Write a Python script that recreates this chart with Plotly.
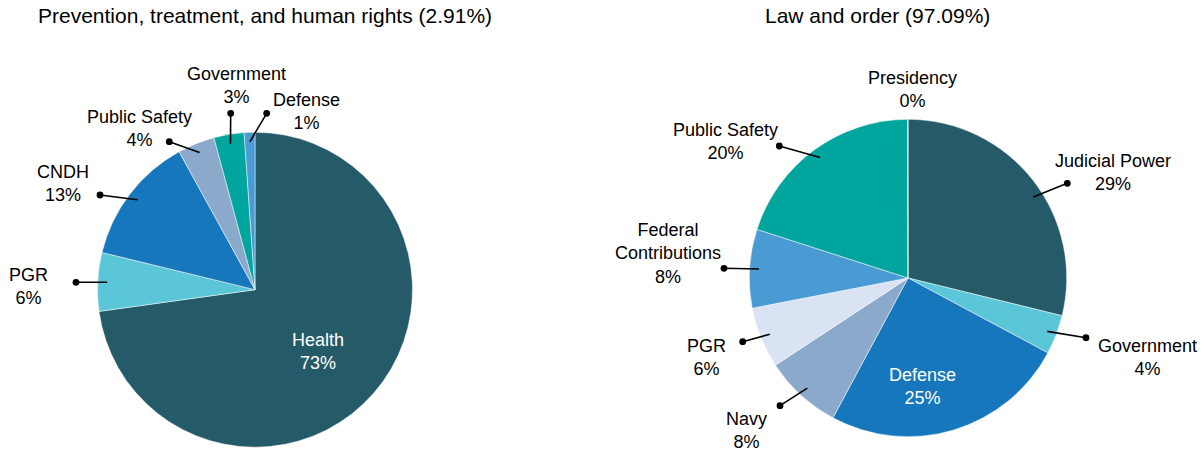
import math
import plotly.graph_objects as go

# ---------------- data ----------------
left_title = "Prevention, treatment, and human rights (2.91%)"
left_labels = ["Health", "PGR", "CNDH", "Public Safety", "Government", "Defense"]
left_values = [72.8, 6.0, 13.2, 3.8, 3.1, 1.1]

right_title = "Law and order (97.09%)"
right_labels = ["Judicial Power", "Government", "Defense", "Navy", "PGR",
                "Federal Contributions", "Public Safety", "Presidency"]
right_values = [28.8, 4.0, 25.0, 7.9, 6.2, 8.0, 20.0, 0.03]

# ---------------- styles / layout ----------------
W, H = 1204, 450
DARK = "#255a69"
CYAN = "#5bc6d7"
BLUE = "#1777bc"
GREYBLUE = "#8ba9ca"
TEAL = "#00a69d"
MIDBLUE = "#4a9ad4"
PALE = "#d9e3f4"

left_colors = [DARK, CYAN, BLUE, GREYBLUE, TEAL, MIDBLUE]
right_colors = [DARK, CYAN, BLUE, GREYBLUE, PALE, MIDBLUE, TEAL, "#e0e0e0"]

# pie geometry in pixels: (center x, center y, radius)
LEFT_GEOM = (255.0, 289.7, 157.5)
RIGHT_GEOM = (908.0, 278.0, 158.7)

# label placement (pixels): text centre, leader-dot position (None = inside / no line),
# text colour, leader start angle tweak (degrees)
left_label_pos = {
    "Health": ((318.3, 351.7), None, "white", 0),
    "PGR": ((28.3, 286.7), (76.0, 282.3), "black", 0),
    "CNDH": ((62.7, 183.3), (100.0, 195.0), "black", 0),
    "Public Safety": ((139.3, 128.0), (169.3, 141.7), "black", 0),
    "Government": ((236.0, 85.5), (230.7, 113.3), "black", 0),
    "Defense": ((306.0, 111.7), (266.7, 113.3), "black", 0),
}
right_label_pos = {
    "Judicial Power": ((1113.0, 172.0), (1067.3, 183.3), "black", 5.2),
    "Government": ((1147.3, 357.2), (1086.0, 337.7), "black", 0),
    "Defense": ((922.7, 386.7), None, "white", 0),
    "Navy": ((746.7, 430.3), (780.0, 405.7), "black", 0),
    "PGR": ((706.3, 357.2), (742.7, 341.7), "black", 0),
    "Federal Contributions": ((668.0, 253.9), (724.0, 268.3), "black", 0),
    "Public Safety": ((725.7, 141.3), (779.3, 146.0), "black", 0),
    "Presidency": ((912.0, 89.5), None, "black", 0),
}
display_names = {"Federal Contributions": "Federal<br>Contributions"}

FONT = "Liberation Sans, Arial, sans-serif"
LABEL_SIZE = 18
TITLE_SIZE = 21
INNER_R = 0.94


def px(x):
    return x / W


def py(y):
    return 1 - y / H


def domain(geom):
    cx, cy, r = geom
    return dict(x=[px(cx - r), px(cx + r)], y=[py(cy + r), py(cy - r)])


fig = go.Figure()
for labels, values, colors, geom in [
    (left_labels, left_values, left_colors, LEFT_GEOM),
    (right_labels, right_values, right_colors, RIGHT_GEOM),
]:
    fig.add_trace(go.Pie(
        labels=labels, values=values, sort=False, direction="clockwise",
        rotation=0, textinfo="none", hoverinfo="label+percent",
        marker=dict(colors=colors, line=dict(color="rgba(255,255,255,0.7)", width=0.7)),
        domain=domain(geom), showlegend=False,
    ))

annotations = []
shapes = []


def add_labels(labels, values, geom, pos):
    cx, cy, r = geom
    total = sum(values)
    cum = 0.0
    for lab, val in zip(labels, values):
        (tx, ty), dot, col, tweak = pos[lab]
        mid = (cum + val / 2) / total * 2 * math.pi + math.radians(tweak)
        cum += val
        pct = round(val / total * 100)
        annotations.append(dict(
            x=px(tx), y=py(ty), xref="paper", yref="paper",
            text=f"{display_names.get(lab, lab)}<br>{pct}%", showarrow=False,
            xanchor="center", yanchor="middle", align="center",
            font=dict(family=FONT, size=LABEL_SIZE, color=col),
        ))
        if dot is not None:
            sx = cx + INNER_R * r * math.sin(mid)
            sy = cy - INNER_R * r * math.cos(mid)
            shapes.append(dict(type="line", xref="paper", yref="paper",
                               x0=px(sx), y0=py(sy), x1=px(dot[0]), y1=py(dot[1]),
                               line=dict(color="black", width=1.6)))
            shapes.append(dict(type="circle", xref="paper", yref="paper",
                               xsizemode="pixel", ysizemode="pixel",
                               xanchor=px(dot[0]), yanchor=py(dot[1]),
                               x0=-3.4, x1=3.4, y0=-3.4, y1=3.4,
                               fillcolor="black", line=dict(color="black", width=0)))


add_labels(left_labels, left_values, LEFT_GEOM, left_label_pos)
add_labels(right_labels, right_values, RIGHT_GEOM, right_label_pos)

for title, tx in [(left_title, 264.7), (right_title, 878.0)]:
    annotations.append(dict(
        x=px(tx), y=py(15.5), xref="paper", yref="paper", text=title,
        showarrow=False, xanchor="center", yanchor="middle",
        font=dict(family=FONT, size=TITLE_SIZE, color="black"),
    ))

fig.update_layout(
    width=W, height=H, margin=dict(l=0, r=0, t=0, b=0),
    paper_bgcolor="white", plot_bgcolor="white",
    annotations=annotations, shapes=shapes,
)

fig.write_html("out.html", config={"displayModeBar": False},
               post_script="document.body.style.margin='0';")
